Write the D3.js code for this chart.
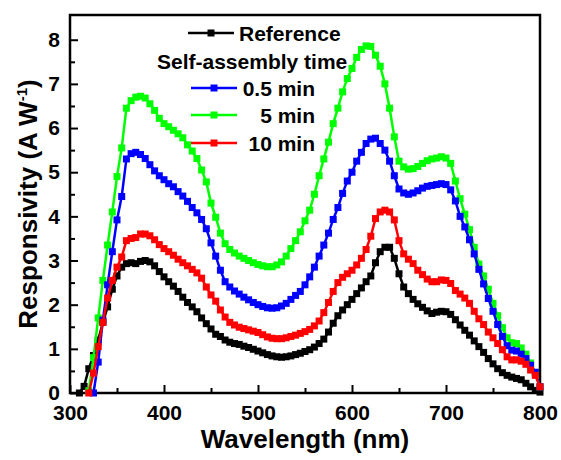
<!DOCTYPE html>
<html>
<head>
<meta charset="utf-8">
<script src="https://cdn.jsdelivr.net/npm/d3@7"></script>
<style>
  body { margin: 0; background: #fff; }
  svg text { font-family: "Liberation Sans", Arial, sans-serif; font-weight: bold; }
</style>
</head>
<body>
<div id="chart"></div>
<script>
// wavelength grid (nm)
var wavelengths = [
  310,315,320,325,330,335,340,345,350,355,
  360,365,370,375,380,385,390,395,400,405,
  410,415,420,425,430,435,440,445,450,455,
  460,465,470,475,480,485,490,495,500,505,
  510,515,520,525,530,535,540,545,550,555,
  560,565,570,575,580,585,590,595,600,605,
  610,615,620,625,630,635,640,645,650,655,
  660,665,670,675,680,685,690,695,700,705,
  710,715,720,725,730,735,740,745,750,755,
  760,765,770,775,780,785,790,795,800
];

var reference = [
  0.0,0.15,0.55,0.85,1.2,1.6,1.95,2.35,2.65,2.85,
  2.93,2.95,2.93,2.98,3.0,2.97,2.88,2.75,2.63,2.52,
  2.42,2.3,2.17,2.05,1.95,1.84,1.7,1.57,1.45,1.33,
  1.28,1.2,1.15,1.12,1.1,1.06,1.03,0.99,0.95,0.91,
  0.87,0.84,0.82,0.81,0.82,0.84,0.87,0.9,0.94,0.98,
  1.04,1.12,1.22,1.38,1.58,1.75,1.88,2.0,2.12,2.25,
  2.38,2.52,2.65,2.95,3.2,3.3,3.3,3.05,2.7,2.4,
  2.25,2.12,2.02,1.94,1.86,1.8,1.83,1.85,1.84,1.78,
  1.66,1.54,1.42,1.31,1.18,1.05,0.92,0.78,0.66,0.55,
  0.46,0.4,0.36,0.33,0.3,0.22,0.14,0.06,0.02
];

var min05 = [
  null,null,null,0.0,0.7,1.65,2.45,3.2,3.92,4.45,
  5.3,5.42,5.45,5.4,5.31,5.17,5.03,4.92,4.83,4.74,
  4.67,4.56,4.46,4.34,4.2,4.08,3.93,3.72,3.4,3.1,
  2.78,2.52,2.4,2.31,2.24,2.17,2.11,2.05,2.0,1.96,
  1.93,1.92,1.93,1.97,2.03,2.12,2.21,2.3,2.45,2.63,
  2.85,3.1,3.35,3.62,3.93,4.2,4.52,4.8,5.0,5.25,
  5.45,5.65,5.75,5.77,5.65,5.5,5.25,4.92,4.62,4.53,
  4.5,4.53,4.58,4.64,4.68,4.7,4.72,4.74,4.72,4.6,
  4.35,4.0,3.76,3.47,3.15,2.8,2.47,2.14,1.85,1.55,
  1.28,1.07,0.97,0.95,0.88,0.78,0.63,0.47,0.14
];

var min5 = [
  null,null,0.05,0.8,1.7,2.55,3.35,4.1,4.9,5.55,
  6.45,6.62,6.7,6.72,6.68,6.55,6.4,6.22,6.1,6.03,
  5.95,5.87,5.78,5.62,5.48,5.31,5.05,4.78,4.3,3.98,
  3.62,3.38,3.25,3.17,3.1,3.05,3.0,2.95,2.91,2.88,
  2.86,2.86,2.9,2.97,3.1,3.27,3.45,3.65,3.9,4.14,
  4.5,4.92,5.3,5.68,6.1,6.45,6.82,7.12,7.35,7.6,
  7.78,7.86,7.85,7.65,7.4,7.0,6.45,5.8,5.25,5.12,
  5.07,5.08,5.13,5.2,5.26,5.3,5.32,5.35,5.32,5.2,
  4.8,4.4,4.05,3.7,3.3,2.92,2.65,2.35,2.03,1.75,
  1.48,1.25,1.14,1.12,1.02,0.88,0.68,0.45,0.14
];

var min10 = [
  null,null,0.0,0.45,1.05,1.6,2.15,2.55,2.85,3.08,
  3.45,3.5,3.52,3.6,3.6,3.56,3.47,3.36,3.27,3.2,
  3.12,3.03,2.95,2.88,2.8,2.72,2.6,2.4,2.22,2.08,
  1.88,1.72,1.6,1.54,1.49,1.46,1.43,1.4,1.37,1.32,
  1.27,1.24,1.23,1.23,1.25,1.28,1.31,1.35,1.39,1.44,
  1.52,1.63,1.82,2.05,2.3,2.5,2.62,2.7,2.78,2.9,
  3.05,3.25,3.55,3.95,4.1,4.14,4.1,3.92,3.45,3.15,
  3.03,2.93,2.78,2.68,2.58,2.52,2.52,2.56,2.55,2.48,
  2.32,2.24,2.15,2.03,1.85,1.68,1.55,1.38,1.25,1.12,
  0.98,0.82,0.75,0.75,0.72,0.65,0.52,0.4,0.14
];

var xTicks = [300, 400, 500, 600, 700, 800];
var xMinor = [350, 450, 550, 650, 750];
var yTicks = [0, 1, 2, 3, 4, 5, 6, 7, 8];
var yMinor = [0.5, 1.5, 2.5, 3.5, 4.5, 5.5, 6.5, 7.5];

var width = 561, height = 460;
var margin = {top: 15, right: 21, bottom: 67, left: 70};

var x = d3.scaleLinear().domain([300, 800]).range([margin.left, width - margin.right]);
var y = d3.scaleLinear().domain([0, 8.56]).range([height - margin.bottom, margin.top]);

var svg = d3.select("#chart").append("svg")
    .attr("width", width)
    .attr("height", height);

// axes with inward ticks
var xAxis = d3.axisBottom(x).tickValues(xTicks).tickSize(-8).tickSizeOuter(0).tickPadding(12);
var gx = svg.append("g")
    .attr("transform", "translate(0," + y(0) + ")")
    .call(xAxis);
gx.selectAll("text").attr("font-size", 21).attr("fill", "#000");

svg.append("g")
    .attr("transform", "translate(0," + y(0) + ")")
    .call(d3.axisBottom(x).tickValues(xMinor).tickSize(-5).tickSizeOuter(0).tickFormat(""));

var yAxis = d3.axisLeft(y).tickValues(yTicks).tickSize(-8).tickSizeOuter(0).tickPadding(10);
var gy = svg.append("g")
    .attr("transform", "translate(" + x(300) + ",0)")
    .call(yAxis);
gy.selectAll("text").attr("font-size", 21).attr("fill", "#000");

svg.append("g")
    .attr("transform", "translate(" + x(300) + ",0)")
    .call(d3.axisLeft(y).tickValues(yMinor).tickSize(-5).tickSizeOuter(0).tickFormat(""));

svg.selectAll(".domain").remove();
svg.selectAll(".tick line").attr("stroke", "#000").attr("stroke-width", 2);

// frame
svg.append("rect")
    .attr("x", x(300))
    .attr("y", y(8.56))
    .attr("width", x(800) - x(300))
    .attr("height", y(0) - y(8.56))
    .attr("fill", "none")
    .attr("stroke", "#000")
    .attr("stroke-width", 2.5);

// series, drawn in the same stacking order as the original
var series = [
  {name: "Reference", values: reference, color: "#000000"},
  {name: "5 min", values: min5, color: "#00ff00"},
  {name: "0.5 min", values: min05, color: "#0000ff"},
  {name: "10 min", values: min10, color: "#ff0000"}
];

var line = d3.line()
    .defined(function(d) { return d[1] != null; })
    .x(function(d) { return x(d[0]); })
    .y(function(d) { return y(d[1]); });

series.forEach(function(s) {
    var pts = wavelengths.map(function(w, i) { return [w, s.values[i]]; })
        .filter(function(d) { return d[1] != null; });
    var g = svg.append("g");
    g.append("path")
        .datum(pts)
        .attr("d", line)
        .attr("fill", "none")
        .attr("stroke", s.color)
        .attr("stroke-width", 2.5);
    g.selectAll("rect")
        .data(pts)
        .enter().append("rect")
        .attr("x", function(d) { return x(d[0]) - 3.5; })
        .attr("y", function(d) { return y(d[1]) - 3.5; })
        .attr("width", 7)
        .attr("height", 7)
        .attr("fill", s.color);
});

// legend
var legend = svg.append("g");
function legendSymbol(x0, x1, yy, color) {
    legend.append("line")
        .attr("x1", x0).attr("x2", x1).attr("y1", yy).attr("y2", yy)
        .attr("stroke", color).attr("stroke-width", 2.5);
    legend.append("rect")
        .attr("x", (x0 + x1) / 2 - 3.5).attr("y", yy - 3.5)
        .attr("width", 7).attr("height", 7)
        .attr("fill", color);
}
legendSymbol(188, 234, 33, "#000000");
legend.append("text").attr("x", 239).attr("y", 40.5).attr("font-size", 21).text("Reference");
legend.append("text").attr("x", 157).attr("y", 69).attr("font-size", 21).text("Self-assembly time");
legendSymbol(191, 237, 88, "#0000ff");
legend.append("text").attr("x", 315).attr("y", 95.5).attr("font-size", 21).attr("text-anchor", "end").text("0.5 min");
legendSymbol(191, 237, 115, "#00ff00");
legend.append("text").attr("x", 315).attr("y", 122.5).attr("font-size", 21).attr("text-anchor", "end").text("5 min");
legendSymbol(191, 237, 143, "#ff0000");
legend.append("text").attr("x", 315).attr("y", 150.5).attr("font-size", 21).attr("text-anchor", "end").text("10 min");

// axis titles
svg.append("text")
    .attr("x", (x(300) + x(800)) / 2)
    .attr("y", 448)
    .attr("text-anchor", "middle")
    .attr("font-size", 26)
    .text("Wavelength (nm)");

var yt = svg.append("text")
    .attr("transform", "translate(37," + (y(0) + y(8.56)) / 2 + ") rotate(-90)")
    .attr("text-anchor", "middle")
    .attr("font-size", 26);
yt.append("tspan").text("Responsivity (A W");
yt.append("tspan").attr("font-size", 15).attr("dy", -10).text("-1");
yt.append("tspan").attr("dy", 10).text(")");
</script>
</body>
</html>
